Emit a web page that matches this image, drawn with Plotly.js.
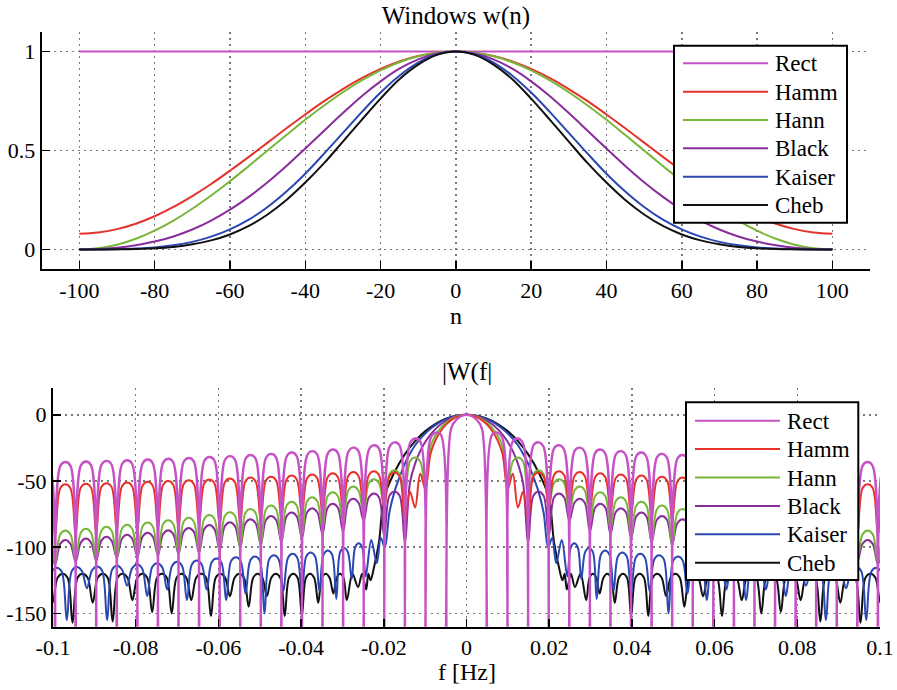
<!DOCTYPE html>
<html><head><meta charset="utf-8">
<script src="https://cdn.plot.ly/plotly-3.0.1.min.js"></script>
<style>html,body{margin:0;padding:0;background:#fff}#chart{width:897px;height:690px}</style>
</head><body><div id="chart"></div>
<script>
// ---------------- DATA ----------------
const seriesNames  = ['Rect','Hamm','Hann','Black','Kaiser','Cheb'];
const seriesColors = ['#C652C6','#E5322B','#78B63A','#8A2C9C','#2B47B2','#111111'];

// Top panel: window values for n >= 0 (windows are symmetric about n = 0)
const nPos   = [0,5,10,15,20,25,30,35,40,45,50,55,60,65,70,75,80,85,90,95,100];
const wRect  = [1,1,1,1,1,1,1,1,1,1,1,1,1,1,1,1,1,1,1,1,1];
const wHamm  = [1.000,0.994,0.977,0.950,0.912,0.865,0.810,0.749,0.682,0.612,0.540,0.468,0.398,0.331,0.270,0.215,0.168,0.130,0.103,0.086,0.080];
const wHann  = [1.000,0.994,0.976,0.946,0.905,0.854,0.794,0.727,0.655,0.578,0.500,0.422,0.345,0.273,0.206,0.146,0.095,0.054,0.024,0.006,0.000];
const wBlack = [1.000,0.990,0.960,0.913,0.849,0.774,0.689,0.600,0.510,0.422,0.340,0.266,0.201,0.146,0.101,0.066,0.040,0.022,0.009,0.002,0.000];
const wKaiser= [1.000,0.986,0.944,0.878,0.793,0.694,0.589,0.484,0.383,0.293,0.215,0.151,0.102,0.065,0.0385,0.0213,0.0107,0.0048,0.0018,0.0005,0.0001];
const wCheb  = [1.000,0.983,0.934,0.860,0.762,0.655,0.545,0.436,0.338,0.250,0.177,0.119,0.076,0.046,0.026,0.013,0.006,0.0025,0.001,0.0003,0.000];

// Bottom panel: |W(f)| in dB for f >= 0 (spectra are symmetric about f = 0)
const fQ = [0,0.001244,0.002488,0.003731,0.004975,0.006219,0.007463,0.008706,0.00995,0.011194,0.012438,0.013682,0.014925,0.016169,0.017413,0.018657,0.0199,0.021144,0.022388,0.023632,0.024876,0.026119,0.027363,0.028607,0.029851,0.031095,0.032338,0.033582,0.034826,0.03607,0.037313,0.038557,0.039801,0.041045,0.042289,0.043532,0.044776,0.04602,0.047264,0.048507,0.049751,0.050995,0.052239,0.053483,0.054726,0.05597,0.057214,0.058458,0.059701,0.060945,0.062189,0.063433,0.064677,0.06592,0.067164,0.068408,0.069652,0.070896,0.072139,0.073383,0.074627,0.075871,0.077114,0.078358,0.079602,0.080846,0.08209,0.083333,0.084577,0.085821,0.087065,0.088308,0.089552,0.090796,0.09204,0.093284,0.094527,0.095771,0.097015,0.098259,0.099502,0.100746,0.10199];
const dbRect = [0,-0.9,-3.9,-10.5,-200,
 -14.9,-13.5,-17.8,-200, -20.0,-17.9,-21.7,-200, -23.2,-20.8,-24.4,-200, -25.5,-23.0,-26.5,-200,
 -27.4,-24.8,-28.1,-200, -28.9,-26.2,-29.5,-200, -30.2,-27.4,-30.7,-200, -31.3,-28.5,-31.8,-200,
 -32.3,-29.5,-32.7,-200, -33.2,-30.4,-33.6,-200, -34.0,-31.2,-34.4,-200, -34.7,-31.9,-35.1,-200,
 -35.4,-32.6,-35.7,-200, -36.0,-33.2,-36.3,-200, -36.6,-33.8,-36.9,-200, -37.2,-34.3,-37.4,-200,
 -37.7,-34.8,-37.9,-200, -38.2,-35.3,-38.4,-200, -38.6,-35.7,-38.9,-200, -39.1,-36.1];
const dbHamm = [0,-0.43,-1.75,-4.03,-7.41,-12.2,-18.9,-29.4,-56,-44.5,-70,-58,-80,
 -46.6,-43.6,-46.6,-70, -45.7,-42.7,-45.7,-70, -46.2,-43.2,-46.2,-72, -47.1,-44.1,-47.1,-74,
 -48.0,-45.0,-48.0,-76, -48.9,-45.9,-48.9,-78, -49.7,-46.7,-49.7,-80, -50.4,-47.4,-50.4,-82,
 -51.1,-48.1,-51.1,-83, -51.8,-48.8,-51.8,-84, -52.4,-49.4,-52.4,-85, -53.0,-50.0,-53.0,-86,
 -53.6,-50.6,-53.6,-87, -54.1,-51.1,-54.1,-88, -54.6,-51.6,-54.6,-89, -55.0,-52.0,-55.0,-90,
 -55.5,-52.5,-55.5,-91, -55.9,-52.9];
const dbHann = [0,-0.35,-1.42,-3.27,-6.02,-9.89,-15.4,-24.1,-56,
 -35.3,-32.3,-35.3,-62, -44.9,-41.9,-44.9,-70, -51.7,-48.7,-51.7,-76, -57.1,-54.1,-57.1,-82,
 -61.5,-58.5,-61.5,-86, -65.3,-62.3,-65.3,-92, -68.6,-65.6,-68.6,-97, -71.5,-68.5,-71.5,-99,
 -74.1,-71.1,-74.1,-101, -76.5,-73.5,-76.5,-103, -78.7,-75.7,-78.7,-104, -80.7,-77.7,-80.7,-105,
 -82.6,-79.6,-82.6,-106, -84.3,-81.3,-84.3,-107, -86.0,-83.0,-86.0,-108, -87.5,-84.5,-87.5,-109,
 -89.0,-86.0,-89.0,-110, -90.3,-87.3,-90.3,-112, -91.6,-88.6];
const dbBlack = [0,-0.27,-1.10,-2.50,-4.51,-7.18,-10.62,-14.95,-20.4,-27.45,-36.9,-51.5,-96,
 -61.2,-58.2,-61.2,-92, -62.5,-59.5,-62.5,-80, -66.4,-63.4,-66.4,-88, -70.2,-67.2,-70.2,-90,
 -73.6,-70.6,-73.6,-93, -76.7,-73.7,-76.7,-96, -79.5,-76.5,-79.5,-98, -81.9,-78.9,-81.9,-100,
 -84.2,-81.2,-84.2,-102, -86.3,-83.3,-86.3,-104, -88.4,-85.4,-88.4,-105, -90.1,-87.1,-90.1,-106,
 -92.0,-89.0,-92.0,-107, -93.6,-90.6,-93.6,-108, -95.0,-92.0,-95.0,-110, -96.5,-93.5,-96.5,-111,
 -97.5,-94.5,-97.5,-113, -99.0,-96.0];
const fKaiser = [0,0.001244,0.002488,0.003731,0.004975,0.006219,0.007463,0.008706,0.00995,0.011194,0.012438,0.013682,0.014925,0.016169,0.017413,0.018657,0.019751,
 0.020721,0.021692, 0.023035,0.024378,
 0.025224,0.02607,0.026915,0.027761, 0.028706,0.029627,0.030547,0.031493, 0.032512,0.033532,0.034552,0.035572,
 0.036617,0.037687,0.038756,0.039801, 0.04092,0.04204,0.043159,0.044279, 0.045423,0.046567,0.047711,0.048856,
 0.05,0.051144,0.052289,0.053433, 0.054602,0.055771,0.05694,0.058109, 0.059291,0.060473,0.061654,0.062836,
 0.06403,0.065224,0.066418,0.067612, 0.068806,0.07,0.071194,0.072388, 0.073595,0.074801,0.076007,0.077214,
 0.078433,0.079652,0.080871,0.08209, 0.083296,0.084502,0.085709,0.086915, 0.088134,0.089353,0.090572,0.091791,
 0.09301,0.094229,0.095448,0.096667, 0.097886,0.099104,0.100323,0.101542];
const dbKaiser = [0,-0.21,-0.82,-1.86,-3.33,-5.25,-7.64,-10.56,-14.0,-18.2,-23.0,-29.5,-37,-47,-58,-74,-100,
 -93,-112, -94.5,-122,
 -100,-97,-100,-124, -103.5,-100.5,-103.5,-139, -105.5,-102.5,-105.5,-133,
 -107,-104,-107,-136, -108,-105,-108,-133, -109,-106,-109,-150,
 -110,-107,-110,-135, -110.5,-107.5,-110.5,-140, -111.5,-108.5,-111.5,-132,
 -113,-110,-113,-140, -114,-111,-114,-132, -115,-112,-115,-137,
 -116,-113,-116,-129, -117,-114,-117,-155, -117.5,-114.5,-117.5,-131,
 -118,-115,-118,-155, -118.5,-115.5,-118.5,-135];
const fCheb = [0,0.002488,0.004975,0.007463,0.00995,0.012438,0.014925,0.017413,0.0199,0.021144,0.022388,
 0.023209,0.023736,0.024264,0.025246,0.026229,0.027584,0.02894,
 0.029756,0.03057,0.031383,0.032199, 0.033114,0.03403,0.034945,0.035861, 0.036848,0.037836,0.038823,0.039811,
 0.040851,0.041888,0.042925,0.043965, 0.045045,0.046122,0.047199,0.048279, 0.049381,0.050483,0.051585,0.052687,
 0.053818,0.05495,0.056082,0.057214, 0.058358,0.059502,0.060647,0.061791, 0.062985,0.064179,0.065373,0.066567,
 0.067749,0.06893,0.070112,0.071294, 0.072475,0.073657,0.074838,0.07602, 0.077214,0.078408,0.079602,0.080796,
 0.08199,0.083184,0.084378,0.085572, 0.086778,0.087985,0.089192,0.090398, 0.091617,0.092836,0.094055,0.095274,
 0.09648,0.097687,0.098893,0.1001, 0.101294,0.102488];
const dbCheb = [0,-0.73,-2.95,-6.76,-12.32,-19.87,-29.9,-43.35,-62.25,-95.6,-115.5,
 -125,-120,-132,-120,-130,-120,-140,
 -123,-120,-123,-135, -123,-120,-123,-142, -123,-120,-123,-152,
 -123,-120,-123,-152, -123,-120,-123,-137, -123,-120,-123,-145,
 -123,-120,-123,-137, -123,-120,-123,-152, -123,-120,-123,-140,
 -123,-120,-123,-150, -123,-120,-123,-149, -123,-120,-123,-140,
 -123,-120,-123,-156, -123,-120,-123,-142, -123,-120,-123,-157,
 -123,-120,-123,-142, -123,-120];

// Tick labels
const nTicks = [-100,-80,-60,-40,-20,0,20,40,60,80,100];
const wTicks = [0,0.5,1];
const fTicks = [-0.1,-0.08,-0.06,-0.04,-0.02,0,0.02,0.04,0.06,0.08,0.1];
const dbTicks = [-150,-100,-50,0];

// ---------------- BUILD ----------------
function mirror(x, y){            // symmetric data: reflect the x>=0 half
  const xs=[], ys=[];
  for(let i=x.length-1;i>=1;i--){ xs.push(-x[i]); ys.push(y[i]); }
  for(let i=0;i<x.length;i++){ xs.push(x[i]); ys.push(y[i]); }
  return [xs, ys];
}
const topY = [wRect,wHamm,wHann,wBlack,wKaiser,wCheb];
const botX = [fQ,fQ,fQ,fQ,fKaiser,fCheb];
const botY = [dbRect,dbHamm,dbHann,dbBlack,dbKaiser,dbCheb];

const traces = [];
for(let s=0;s<6;s++){
  const [x,y] = mirror(nPos, topY[s]);
  traces.push({type:'scatter',mode:'lines',name:seriesNames[s],x:x,y:y,xaxis:'x',yaxis:'y',
    line:{color:seriesColors[s],width:2,shape:'spline'},showlegend:false,hoverinfo:'skip'});
}
for(let s=5;s>=0;s--){
  const [x,y] = mirror(botX[s], botY[s]);
  traces.push({type:'scatter',mode:'lines',name:seriesNames[s],x:x,y:y,xaxis:'x2',yaxis:'y2',
    line:{color:seriesColors[s],width:(s===0?2.4:2),shape:'spline',smoothing:1},showlegend:false,hoverinfo:'skip'});
}

const W=897, H=690;
const px = v => v/W, py = v => 1 - v/H;
const FONT = 'Liberation Serif, Times New Roman, serif';
const tickLbl = v => String(v);

const axisCommon = {
  showline:true, linecolor:'#000', linewidth:2,
  ticks:'inside', ticklen:8, tickwidth:1.5, tickcolor:'#000',
  showgrid:true, gridcolor:'#7a7a7a', gridwidth:1.5, griddash:'2px,4px',
  zeroline:false, tickfont:{family:FONT,size:22,color:'#000'}, fixedrange:true
};

const shapes = [], annotations = [];
function addLegend(box, y0, dy, lx0, lx1, tx){
  shapes.push({type:'rect',xref:'paper',yref:'paper',x0:px(box[0]),x1:px(box[1]),y0:py(box[3]),y1:py(box[2]),
    line:{color:'#000',width:2},fillcolor:'#fff',layer:'above'});
  for(let i=0;i<seriesNames.length;i++){
    const yy = y0 + dy*i;
    shapes.push({type:'line',xref:'paper',yref:'paper',x0:px(lx0),x1:px(lx1),y0:py(yy),y1:py(yy),
      line:{color:seriesColors[i],width:2},layer:'above'});
    annotations.push({xref:'paper',yref:'paper',x:px(tx),y:py(yy+0.5),xanchor:'left',yanchor:'middle',
      text:seriesNames[i],showarrow:false,font:{family:FONT,size:23,color:'#000'}});
  }
}
addLegend([674,847,45.7,222.7], 63.3, 28.35, 683, 768, 773);
addLegend([686,858.3,402.3,580], 420.7, 28.4, 695, 780, 784.5);

annotations.push({xref:'paper',yref:'paper',x:px(466.5),y:py(372),xanchor:'center',yanchor:'middle',
  text:'|W(f|',showarrow:false,font:{family:FONT,size:25,color:'#000'}});
annotations.push({xref:'paper',yref:'paper',x:px(455.9),y:py(316),xanchor:'center',yanchor:'middle',
  text:'n',showarrow:false,font:{family:FONT,size:24,color:'#000'}});
annotations.push({xref:'paper',yref:'paper',x:px(466.5),y:py(672),xanchor:'center',yanchor:'middle',
  text:'f [Hz]',showarrow:false,font:{family:FONT,size:24,color:'#000'}});

const layout = {
  width:W, height:H, margin:{l:0,r:0,t:0,b:0}, paper_bgcolor:'#fff', plot_bgcolor:'#fff',
  showlegend:false, font:{family:FONT,size:22,color:'#000'},
  title:{text:'Windows w(n)', font:{family:FONT,size:25,color:'#000'}, x:px(455.9), xanchor:'center',
         y:py(15), yanchor:'middle', yref:'container'},
  xaxis:Object.assign({}, axisCommon, {domain:[px(41.7),px(870)], range:[-110,110], anchor:'y',
         tickmode:'array', tickvals:nTicks, ticktext:nTicks.map(tickLbl)}),
  yaxis:Object.assign({}, axisCommon, {domain:[py(269.3),py(31.7)], range:[-0.1,1.1], anchor:'x',
         tickmode:'array', tickvals:wTicks, ticktext:wTicks.map(tickLbl)}),
  xaxis2:Object.assign({}, axisCommon, {domain:[px(53),px(880)], range:[-0.1,0.1], anchor:'y2',
         tickmode:'array', tickvals:fTicks, ticktext:fTicks.map(tickLbl)}),
  yaxis2:Object.assign({}, axisCommon, {domain:[py(626.7),py(388.3)], range:[-160,20], anchor:'x2',
         tickmode:'array', tickvals:dbTicks, ticktext:dbTicks.map(tickLbl)}),
  shapes:shapes, annotations:annotations
};

Plotly.newPlot('chart', traces, layout, {staticPlot:true, displayModeBar:false});
</script>
</body></html>
